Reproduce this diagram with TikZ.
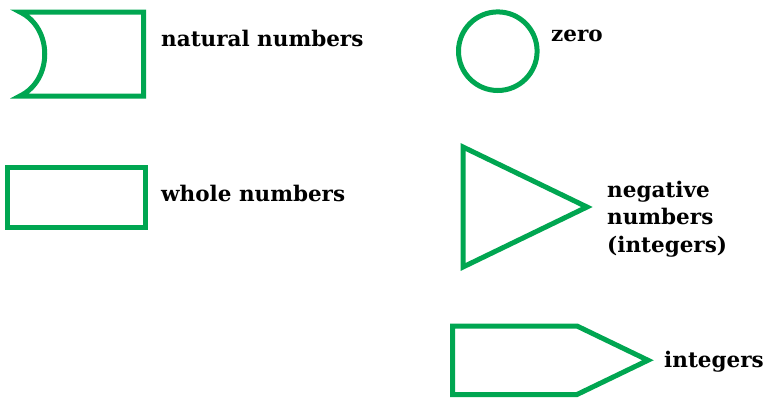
\documentclass[tikz,border=0pt]{standalone}
\usepackage{fontspec}
\setmainfont{DejaVu Serif}
\definecolor{setgreen}{RGB}{0,166,81}

\begin{document}
\begin{tikzpicture}[
    x=1pt, y=-1pt,
    outline/.style={draw=setgreen, line width=5pt, line join=miter},
    legend/.style={font=\fontsize{21.5}{27.5}\selectfont\bfseries, anchor=base west, inner sep=0pt, align=left}
]
  \useasboundingbox (0,0) rectangle (765,397);

  % Shapes
  \draw[outline] (80,12) -- (143.5,12) -- (143.5,96) -- (20,96)
    .. controls (53,80) and (53,28) .. (20,12) -- cycle;
  \draw[outline] (7.5,167.5) rectangle (145.5,227.5);
  \draw[outline] (497.8,51.2) circle[radius=39.3];
  \draw[outline] (463,147) -- (587,207) -- (463,267) -- cycle;
  \draw[outline] (452.5,326) -- (577,326) -- (648,360.25) -- (577,394.5) -- (452.5,394.5) -- cycle;

  % Labels
  \node[legend] (natural) at (161,46) {natural numbers};
  \node[legend] (whole) at (161,201) {whole numbers};
  \node[legend] (zero) at (551,41) {zero};
  \node[legend] (negative) at (607,252) {negative\\numbers\\(integers)};
  \node[legend] (integers) at (664,367) {integers};
\end{tikzpicture}
\end{document}
